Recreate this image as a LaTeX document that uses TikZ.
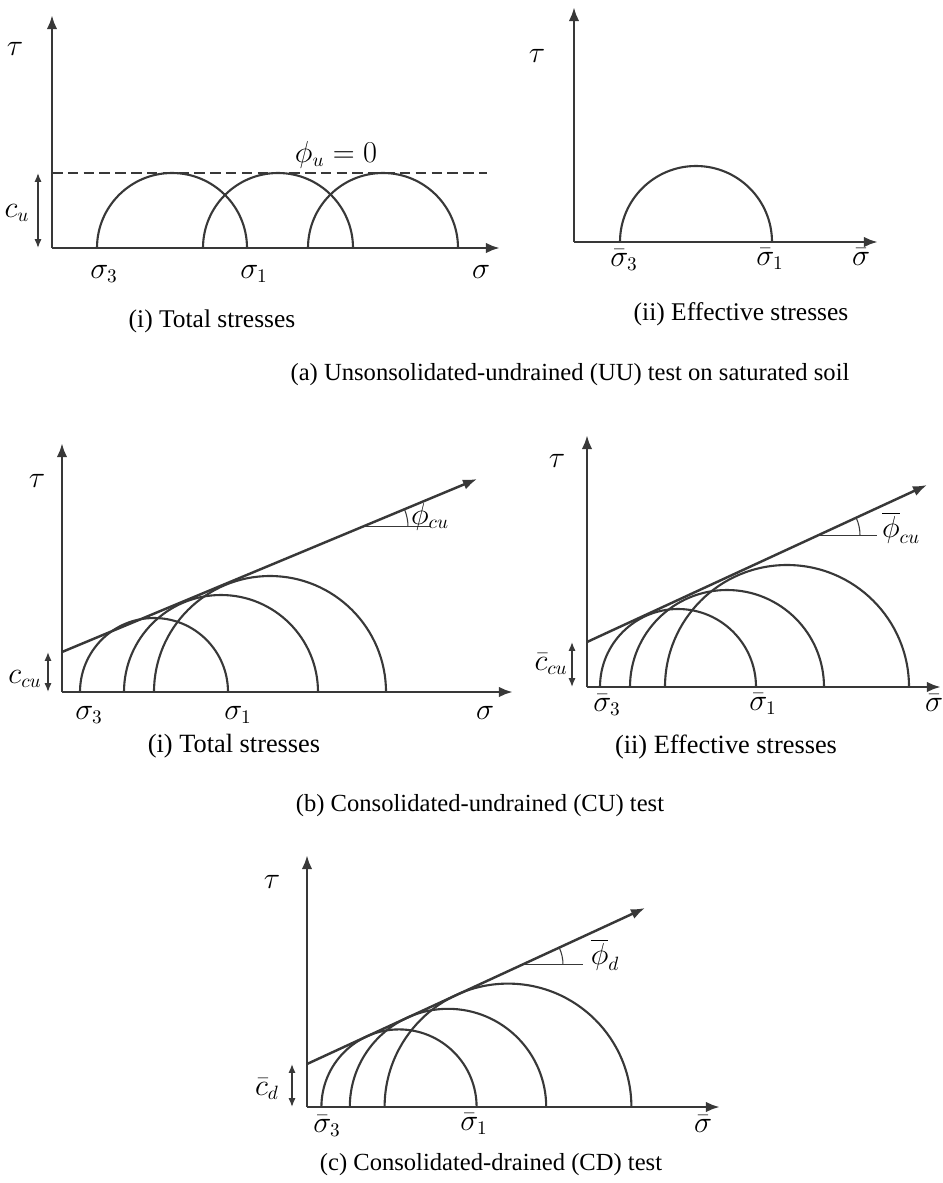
\documentclass[tikz,border=0pt]{standalone}
\usepackage{fontspec}
\setmainfont{Liberation Serif}
\usetikzlibrary{arrows.meta,positioning}
\definecolor{ink}{HTML}{383838}

\begin{document}
\begin{tikzpicture}[x=0.02cm, y=0.02cm, line join=round]
\tikzstyle{axis}=[ink, line width=1.6pt, -{Latex[length=8pt,width=6pt]}]
\tikzstyle{env}=[ink, line width=1.4pt, -{Latex[length=8pt,width=6pt]}]
\tikzstyle{mohr}=[ink, line width=1.2pt]
\tikzstyle{dim}=[ink, line width=0.8pt, {Latex[length=5pt,width=4pt]}-{Latex[length=5pt,width=4pt]}]
\tikzstyle{marker}=[ink, line width=0.6pt]
\tikzstyle{lab}=[inner sep=0pt, anchor=base, font=\fontsize{16}{18}\selectfont]
\tikzstyle{captext}=[inner sep=0pt, font=\fontsize{14}{16}\selectfont]
\tikzstyle{subcap}=[inner sep=0pt, font=\fontsize{15}{17}\selectfont]

\useasboundingbox (0,0) rectangle (943,-1183);

% (a)(i) total stresses
\begin{scope}[shift={(52,-248)}]
\coordinate (oA) at (0,0);
\coordinate (yA) at (0,233);
\coordinate (xA) at (448,0);
\draw[axis] (oA) -- (yA);
\draw[axis] (oA) -- (xA);
\foreach \c in {120,226,331}
  \draw[mohr] ({\c+75},0) arc[start angle=0, end angle=180, radius=75];
\coordinate (dA0) at (0,75);
\coordinate (dA1) at (435,75);
\draw[marker, line width=0.8pt, dash pattern=on 6pt off 3pt] (dA0) -- (dA1);
\node[lab] (phiA) at (284,86) {$\phi_u = 0$};
\coordinate (cA0) at (-14,0);
\coordinate (cA1) at (-14,75);
\draw[dim] (cA0) -- (cA1);
\node[lab] (cuA) at (-35,31) {$c_u$};
\node[lab] (tauA) at (-37,193) {$\tau$};
\node[lab] (s3A) at (52,-30) {$\sigma_3$};
\node[lab] (s1A) at (202,-30) {$\sigma_1$};
\node[lab] (sA) at (429,-30) {$\sigma$};
\node[subcap, font=\fontsize{14.5}{17}\selectfont] (capAi) at (160,-73) {(i) Total stresses};
\end{scope}

% (a)(ii) effective stresses
\begin{scope}[shift={(574,-242)}]
\coordinate (oAe) at (0,0);
\coordinate (yAe) at (0,235);
\coordinate (xAe) at (304,0);
\draw[axis] (oAe) -- (yAe);
\draw[axis] (oAe) -- (xAe);
\draw[mohr] (198,0) arc[start angle=0, end angle=180, radius=76];
\node[lab] (tauAe) at (-37,180) {$\tau$};
\node[lab] (s3Ae) at (50,-24) {$\bar{\sigma}_3$};
\node[lab] (s1Ae) at (196,-23) {$\bar{\sigma}_1$};
\node[lab] (sAe) at (287,-23) {$\bar{\sigma}$};
\node[subcap, font=\fontsize{14.5}{17}\selectfont] (capAii) at (167,-72) {(ii) Effective stresses};
\end{scope}

\node[captext] (capA) at (570,-375) {(a) Unsonsolidated-undrained (UU) test on saturated soil};

% (b)(i) total stresses
\begin{scope}[shift={(62,-692)}]
\coordinate (oB) at (0,0);
\coordinate (yB) at (0,249);
\coordinate (xB) at (451,0);
\draw[axis] (oB) -- (yB);
\draw[axis] (oB) -- (xB);
\foreach \c/\r in {92/74,159/97,208/116}
  \draw[mohr] ({\c+\r},0) arc[start angle=0, end angle=180, radius=\r];
\coordinate (eB0) at (0,40);
\coordinate (eB1) at (415,213);
\draw[env] (eB0) -- (eB1);
\coordinate (pB) at (301,165.2);
\coordinate (hB) at (368,165.2);
\draw[marker] (pB) -- (hB);
\draw[marker] (pB) ++(45,0) arc[start angle=0, end angle=22.6, radius=45];
\node[lab] (phiB) at (368,168) {$\phi_{cu}$};
\coordinate (cB0) at (-14,0);
\coordinate (cB1) at (-14,40);
\draw[dim] (cB0) -- (cB1);
\node[lab] (cuB) at (-37,9) {$c_{cu}$};
\node[lab] (tauB) at (-25,205) {$\tau$};
\node[lab] (s3B) at (27,-27) {$\sigma_3$};
\node[lab] (s1B) at (176,-27) {$\sigma_1$};
\node[lab] (sB) at (423,-27) {$\sigma$};
\node[subcap] (capBi) at (172,-54) {(i) Total stresses};
\end{scope}

% (b)(ii) effective stresses
\begin{scope}[shift={(587,-687)}]
\coordinate (oBe) at (0,0);
\coordinate (yBe) at (0,252);
\coordinate (xBe) at (354,0);
\draw[axis] (oBe) -- (yBe);
\draw[axis] (oBe) -- (xBe);
\foreach \c/\r in {91/78,140/97,200/122}
  \draw[mohr] ({\c+\r},0) arc[start angle=0, end angle=180, radius=\r];
\coordinate (eBe0) at (0,45);
\coordinate (eBe1) at (340,202);
\draw[env] (eBe0) -- (eBe1);
\coordinate (pBe) at (231,151.7);
\coordinate (hBe) at (290,151.7);
\draw[marker] (pBe) -- (hBe);
\draw[marker] (pBe) ++(42,0) arc[start angle=0, end angle=24.8, radius=42];
\node[lab] (phiBe) at (314,150) {$\overline{\phi}_{cu}$};
\coordinate (cBe0) at (-15,0);
\coordinate (cBe1) at (-15,45);
\draw[dim] (cBe0) -- (cBe1);
\node[lab] (cuBe) at (-36,17) {$\bar{c}_{cu}$};
\node[lab] (tauBe) at (-30,220) {$\tau$};
\node[lab] (s3Be) at (20,-24) {$\bar{\sigma}_3$};
\node[lab] (s1Be) at (176,-23) {$\bar{\sigma}_1$};
\node[lab] (sBe) at (347,-24) {$\bar{\sigma}$};
\node[subcap] (capBii) at (139,-60) {(ii) Effective stresses};
\end{scope}

\node[captext] (capB) at (480,-806) {(b) Consolidated-undrained (CU) test};

% (c) consolidated-drained
\begin{scope}[shift={(307,-1107)}]
\coordinate (oC) at (0,0);
\coordinate (yC) at (0,252);
\coordinate (xC) at (413,0);
\draw[axis] (oC) -- (yC);
\draw[axis] (oC) -- (xC);
\foreach \c/\r in {92/77.6,141/98.2,201/123.4}
  \draw[mohr] ({\c+\r},0) arc[start angle=0, end angle=180, radius=\r];
\coordinate (eC0) at (0,43);
\coordinate (eC1) at (338,199);
\draw[env] (eC0) -- (eC1);
\coordinate (pC) at (215,142.3);
\coordinate (hC) at (276,142.3);
\draw[marker] (pC) -- (hC);
\draw[marker] (pC) ++(41,0) arc[start angle=0, end angle=24.8, radius=41];
\node[lab] (phiC) at (298,143) {$\overline{\phi}_d$};
\coordinate (cC0) at (-15,0);
\coordinate (cC1) at (-15,43);
\draw[dim] (cC0) -- (cC1);
\node[lab] (cdC) at (-40,12) {$\bar{c}_d$};
\node[lab] (tauC) at (-35,219) {$\tau$};
\node[lab] (s3C) at (20,-25) {$\bar{\sigma}_3$};
\node[lab] (s1C) at (167,-23) {$\bar{\sigma}_1$};
\node[lab] (sC) at (396,-25) {$\bar{\sigma}$};
\end{scope}

\node[captext] (capC) at (491,-1165) {(c) Consolidated-drained (CD) test};
\end{tikzpicture}
\end{document}
